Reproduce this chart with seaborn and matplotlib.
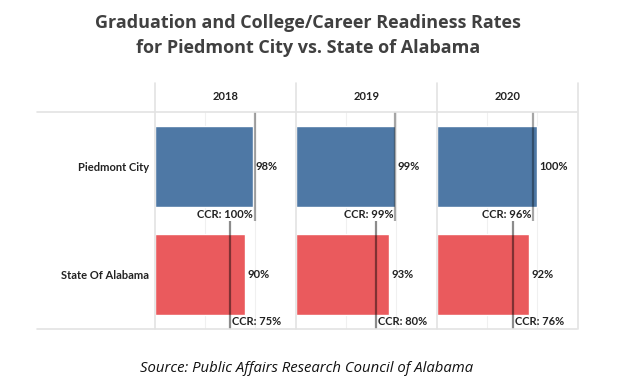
import matplotlib
matplotlib.use("Agg")
import matplotlib.pyplot as plt
from matplotlib.lines import Line2D
import seaborn as sns
import pandas as pd

years = ["2018", "2019", "2020"]
groups = ["Piedmont City", "State Of Alabama"]
grad_piedmont = [98, 99, 100]
grad_state = [90, 93, 92]
ccr_piedmont = [100, 99, 96]
ccr_state = [75, 80, 76]
colors = {"Piedmont City": "#4E78A5", "State Of Alabama": "#EA5A5D"}

W, H = 617, 384
fig = plt.figure(figsize=(W / 100, H / 100), dpi=100)
sns.set_style("white")
plt.rcParams["font.family"] = ["Lato", "DejaVu Sans"]


def fx(px):
    return px / W


def fy(py):
    return 1 - py / H


top, head, bottom = 83, 112, 329
panel_left, panel_w = 155, 141
txt = dict(fontsize=8, fontweight="bold", color="#222222")

for i, year in enumerate(years):
    df = pd.DataFrame({
        "group": groups,
        "rate": [grad_piedmont[i], grad_state[i]],
    })
    ax = fig.add_axes([fx(panel_left + panel_w * i), fy(bottom),
                       fx(panel_w), (bottom - head) / H])
    for x in (50, 100):
        ax.axvline(x, color="#f0f0f0", lw=0.8, zorder=0)
    sns.barplot(data=df, x="rate", y="group", hue="group", palette=colors,
                width=0.75, saturation=1, legend=False, ax=ax, zorder=2)
    ax.set_xlim(0, 141)
    ax.set_ylim(1.5, -0.5)
    ax.set_xlabel("")
    ax.set_ylabel("")
    ax.set_xticks([])
    for s in ax.spines.values():
        s.set_visible(False)
    if i == 0:
        ax.set_yticks([0, 1])
        ax.set_yticklabels(groups, **txt)
        ax.tick_params(axis="y", length=0, pad=4)
    else:
        ax.set_yticks([])

    ccr = [ccr_piedmont[i], ccr_state[i]]
    rates = df["rate"].tolist()
    for j in range(2):
        ax.vlines(ccr[j], j - 0.5, j + 0.5, color="black",
                  alpha=0.35 if j == 0 else 0.45, lw=1.6, zorder=3)
        ax.text(rates[j] + 2, j, f"{rates[j]}%", va="center", ha="left", **txt)
        if j == 0:
            ax.text(ccr[j] - 2, j + 0.445, f"CCR: {ccr[j]}%", va="center", ha="right",
                    zorder=4, **txt)
        else:
            ax.text(ccr[j] + 2, j + 0.43, f"CCR: {ccr[j]}%", va="center", ha="left",
                    zorder=4, **txt)

    fig.text(fx(panel_left + panel_w * i + panel_w / 2), fy(97), year,
             ha="center", va="center", **txt)

# frame lines
line_kw = dict(color="#e3e3e3", lw=1.2)
for k in range(4):
    x = fx(panel_left + panel_w * k)
    fig.add_artist(Line2D([x, x], [fy(top), fy(bottom)], **line_kw))
for y in (head, bottom):
    fig.add_artist(Line2D([fx(37), fx(577)], [fy(y), fy(y)], **line_kw))

title_kw = dict(ha="center", va="center", fontsize=13, fontweight="bold",
                color="#404040", family=["Open Sans", "DejaVu Sans"])
fig.text(fx(308), fy(23), "Graduation and College/Career Readiness Rates", **title_kw)
fig.text(fx(308), fy(48), "for Piedmont City vs. State of Alabama", **title_kw)
fig.text(fx(307), fy(369), "Source: Public Affairs Research Council of Alabama",
         ha="center", va="center", fontsize=10.7, style="italic",
         color="#111111", family=["Open Sans", "DejaVu Sans"])

fig.savefig("out.png", dpi=100)
